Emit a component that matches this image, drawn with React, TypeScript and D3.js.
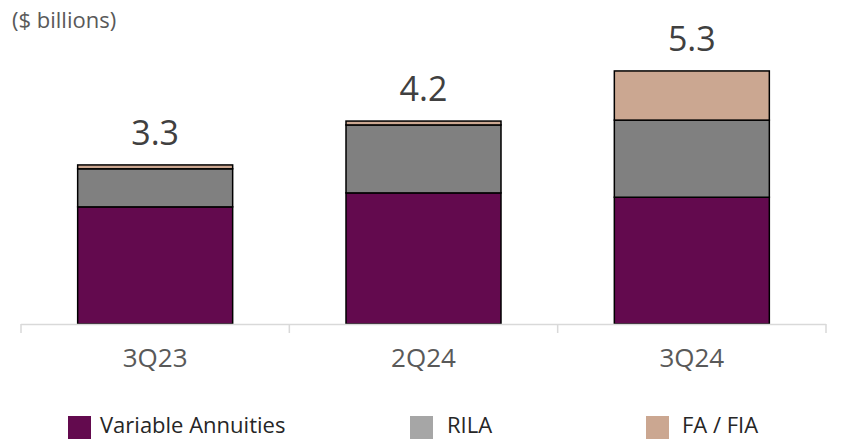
import React from "react";
import * as d3 from "d3";

const categories = ["3Q23", "2Q24", "3Q24"];
const seriesNames = ["Variable Annuities", "RILA", "FA / FIA"];
const variableAnnuities = [2.43, 2.72, 2.63];
const rila = [0.79, 1.41, 1.6];
const faFia = [0.08, 0.08, 1.02];
const totalLabels = ["3.3", "4.2", "5.3"];

const barColors = ["#630A4E", "#808080", "#CBA791"];
const legendColors = ["#630A4E", "#A6A6A6", "#CBA791"];

export default function App() {
  const W = 861, H = 440;
  const baseY = 324;
  const x = d3.scaleBand<string>().domain(categories).range([21, 826]).paddingInner(0).paddingOuter(0);
  const y = d3.scaleLinear().domain([0, 6]).range([baseY, baseY - 6 * 48.2]);
  const barW = 155;

  const rows = categories.map((c, i) => ({ cat: c, va: variableAnnuities[i], rila: rila[i], fa: faFia[i] }));
  const stack = d3.stack<any>().keys(["va", "rila", "fa"])(rows);

  const ticks = [21, ...categories.map((c) => (x(c) as number) + x.bandwidth())];

  const legendPos = [
    { sq: 68, tx: 100 },
    { sq: 410, tx: 447 },
    { sq: 646, tx: 682 },
  ];

  return (
    <svg width={W} height={H} style={{ position: "absolute", left: 0, top: 0, background: "#fff" }} fontFamily="'Open Sans', sans-serif">
      <text x={12} y={28} fontSize={22} fill="#595959">($ billions)</text>
      {stack.map((s, si) =>
        s.map((d, i) => {
          const cx = (x(categories[i]) as number) + x.bandwidth() / 2;
          return (
            <rect
              key={si + "-" + i}
              x={cx - barW / 2}
              y={y(d[1])}
              width={barW}
              height={y(d[0]) - y(d[1])}
              fill={barColors[si]}
              stroke="#000"
              strokeWidth={1.5}
            />
          );
        })
      )}
      <line x1={21} x2={826} y1={baseY + 0.5} y2={baseY + 0.5} stroke="#D9D9D9" strokeWidth={1.5} />
      {ticks.map((t, i) => (
        <line key={i} x1={t} x2={t} y1={baseY} y2={baseY + 9} stroke="#D9D9D9" strokeWidth={1.5} />
      ))}
      {categories.map((c, i) => {
        const cx = (x(c) as number) + x.bandwidth() / 2;
        const total = variableAnnuities[i] + rila[i] + faFia[i];
        return (
          <g key={c}>
            <text x={cx} y={367} textAnchor="middle" fontSize={26} fill="#595959">{c}</text>
            <text x={cx} y={y(total) - 20} textAnchor="middle" fontSize={34} fill="#404040">{totalLabels[i]}</text>
          </g>
        );
      })}
      {seriesNames.map((n, i) => (
        <g key={n}>
          <rect x={legendPos[i].sq} y={416} width={23} height={23} fill={legendColors[i]} />
          <text x={legendPos[i].tx} y={433} fontSize={22} fill="#262626">{n}</text>
        </g>
      ))}
    </svg>
  );
}
